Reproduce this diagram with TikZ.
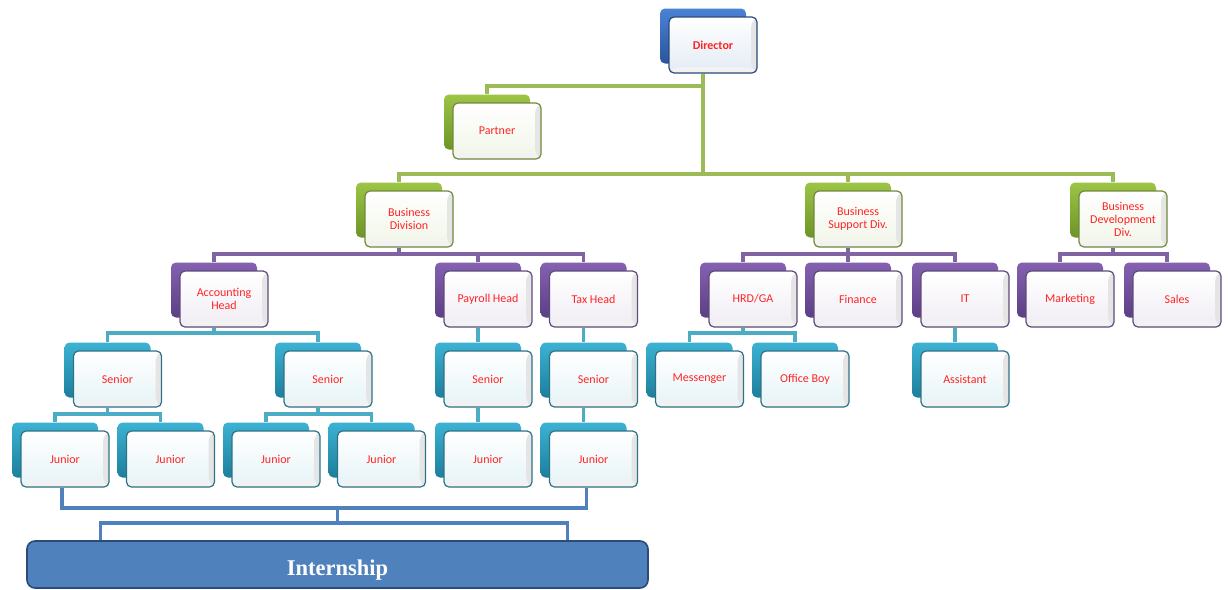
\documentclass[tikz,border=0pt]{standalone}
\usepackage{fontspec}
\setmainfont{Carlito}
\newfontfamily\serifb{Liberation Serif}
\usetikzlibrary{calc,backgrounds}
\definecolor{gln}{HTML}{9BBB59}
\definecolor{pln}{HTML}{8064A2}
\definecolor{tln}{HTML}{4BACC6}
\definecolor{bln}{HTML}{4F81BD}
\definecolor{gback}{HTML}{9CC445}
\definecolor{gbackd}{HTML}{6E9428}
\definecolor{pback}{HTML}{8561B0}
\definecolor{pbackd}{HTML}{5C3F85}
\definecolor{tback}{HTML}{3CB2D2}
\definecolor{tbackd}{HTML}{1D7F9C}
\definecolor{bback}{HTML}{4A82D6}
\definecolor{bbackd}{HTML}{2A559A}
\definecolor{gbord}{HTML}{6F8A3A}
\definecolor{pbord}{HTML}{5E4A7C}
\definecolor{tbord}{HTML}{2E7288}
\definecolor{bbord}{HTML}{2B4A78}
\definecolor{txt}{HTML}{FF2424}
\tikzset{
  bkbox/.style={rounded corners=5pt, minimum width=86pt, minimum height=55pt, inner sep=0pt},
  frbox/.style={rounded corners=5pt, minimum width=88pt, minimum height=56pt, inner sep=2pt,
    line width=1.2pt, text=txt, align=center, font=\fontsize{12}{13}\selectfont,
    path picture={
      \fill[black!10] (path picture bounding box.north east) -- ([xshift=-6pt,yshift=-6pt]path picture bounding box.north east)
        -- ([xshift=-6pt,yshift=6pt]path picture bounding box.south east) -- (path picture bounding box.south east) -- cycle;
      \fill[black!5] (path picture bounding box.south west) -- ([xshift=6pt,yshift=6pt]path picture bounding box.south west)
        -- ([xshift=-6pt,yshift=6pt]path picture bounding box.south east) -- (path picture bounding box.south east) -- cycle;
      \fill[white] (path picture bounding box.north west) -- ([xshift=6pt,yshift=-6pt]path picture bounding box.north west)
        -- ([xshift=-6pt,yshift=-6pt]path picture bounding box.north east) -- (path picture bounding box.north east) -- cycle;
    }},
  bkg/.style={bkbox, top color=gback, bottom color=gbackd},
  bkp/.style={bkbox, top color=pback, bottom color=pbackd},
  bkt/.style={bkbox, top color=tback, bottom color=tbackd},
  bkb/.style={bkbox, top color=bback, bottom color=bbackd},
  frg/.style={frbox, draw=gbord, top color=white, bottom color=gln!14!white},
  frp/.style={frbox, draw=pbord, top color=white, bottom color=pln!12!white},
  frt/.style={frbox, draw=tbord, top color=white, bottom color=tln!14!white},
  frb/.style={frbox, draw=bbord, top color=white, bottom color=bln!16!white},
  gl/.style={draw=gln, line width=3.2pt},
  pl/.style={draw=pln, line width=3.2pt},
  tl/.style={draw=tln, line width=3.2pt},
  bl/.style={draw=bln, line width=3.2pt},
}
\newcommand\onode[5]{%
  \node[bk#2] (#1B) at (#3-10,#4-9) {};
  \node[fr#2] (#1) at (#3,#4) {#5};}
\newcommand\link[4]{%
  \foreach \c in {#4} \draw[#1] (#2B.south |- #2.south) |- (\c B.north |- #3) -- (\c B.north);}
\begin{document}
\begin{tikzpicture}[x=1pt,y=-1pt]
\useasboundingbox (0,0) rectangle (1228,589);
\begin{scope}[on background layer]
  \fill[white] (0,0) rectangle (1228,589);
\end{scope}
\coordinate (L1) at (0,86);
\coordinate (L2) at (0,174);
\coordinate (L3) at (0,254);
\coordinate (L4) at (0,333);
\coordinate (L5) at (0,414);
\coordinate (L6) at (0,508);
\coordinate (L7) at (0,523);
% nodes
\onode{dir}{b}{713}{45}{\textbf{Director}}
\onode{par}{g}{497}{131}{Partner}
\onode{bdiv}{g}{409}{219}{Business\\Division}
\onode{bsup}{g}{858}{219}{Business\\Support Div.}
\onode{bdev}{g}{1123}{219}{Business\\Development\\Div.}
\onode{acc}{p}{224}{299}{Accounting\\Head}
\onode{pay}{p}{488}{299}{Payroll Head}
\onode{tax}{p}{593.5}{299}{Tax Head}
\onode{hrd}{p}{753}{299}{HRD/GA}
\onode{fin}{p}{858}{299}{Finance}
\onode{it}{p}{965}{299}{IT}
\onode{mkt}{p}{1070}{299}{Marketing}
\onode{sal}{p}{1177}{299}{Sales}
\onode{sa}{t}{117.5}{379}{Senior}
\onode{sb}{t}{328}{379}{Senior}
\onode{sc}{t}{488}{379}{Senior}
\onode{sd}{t}{593.5}{379}{Senior}
\onode{mes}{t}{699.5}{379}{Messenger}
\onode{ob}{t}{805}{379}{Office Boy}
\onode{ast}{t}{965}{379}{Assistant}
\onode{ja}{t}{65}{459}{Junior}
\onode{jb}{t}{170.5}{459}{Junior}
\onode{jc}{t}{276}{459}{Junior}
\onode{jd}{t}{381.5}{459}{Junior}
\onode{je}{t}{488}{459}{Junior}
\onode{jf}{t}{593.5}{459}{Junior}
\node[rounded corners=8pt, fill=bln, draw=bbord, line width=1.6pt, minimum width=621pt,
  minimum height=47pt, text=white, text height=22pt, text depth=0pt,
  font=\serifb\bfseries\fontsize{22.5}{24}\selectfont]
  (intern) at (337.5,564.5) {Internship};
% connectors
\begin{scope}[on background layer]
  \link{gl}{dir}{L1}{par}
  \link{gl}{dir}{L2}{bdiv,bsup,bdev}
  \link{pl}{bdiv}{L3}{acc,pay,tax}
  \link{pl}{bsup}{L3}{hrd,fin,it}
  \link{pl}{bdev}{L3}{mkt,sal}
  \link{tl}{acc}{L4}{sa,sb}
  \link{tl}{pay}{L4}{sc}
  \link{tl}{tax}{L4}{sd}
  \link{tl}{hrd}{L4}{mes,ob}
  \link{tl}{it}{L4}{ast}
  \link{tl}{sa}{L5}{ja,jb}
  \link{tl}{sb}{L5}{jc,jd}
  \link{tl}{sc}{L5}{je}
  \link{tl}{sd}{L5}{jf}
  \coordinate (jl) at ($(ja.south)+(-3,0)$);
  \coordinate (jr) at ($(jf.south)+(-7,0)$);
  \coordinate (il) at ($(intern.north west)+(74,0)$);
  \coordinate (ir) at ($(intern.north east)+(-81,0)$);
  \draw[bl] (jl) -- (jl |- L6) -- (jr |- L6) -- (jr);
  \draw[bl] (intern.north |- L6) -- (intern.north |- L7);
  \draw[bl] (il) -- (il |- L7) -- (ir |- L7) -- (ir);
\end{scope}
\end{tikzpicture}
\end{document}
